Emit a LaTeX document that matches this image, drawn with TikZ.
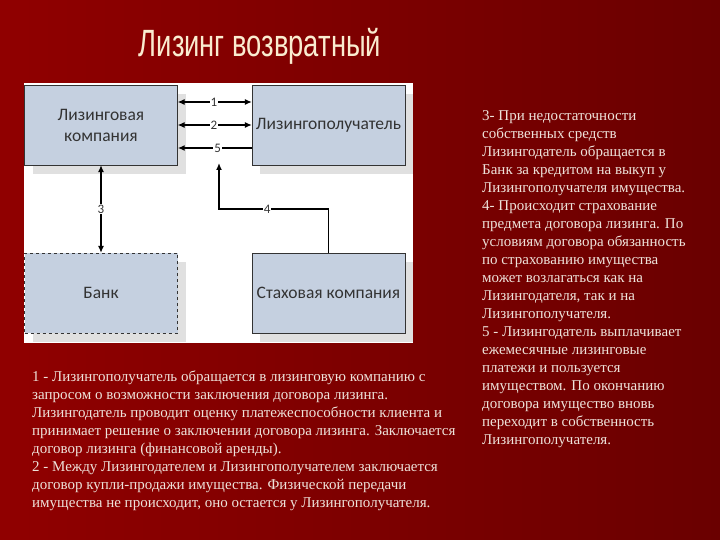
\documentclass[tikz,border=0pt]{standalone}
\usepackage{fontspec}
\setmainfont{Liberation Serif}
\newfontfamily\boxfont{Carlito}
\newfontfamily\titlefont[FakeStretch=0.72]{Liberation Sans}
\usetikzlibrary{shadows,arrows.meta}
\definecolor{slidered}{RGB}{144,0,0}
\definecolor{slidedark}{RGB}{106,0,0}
\definecolor{boxblue}{RGB}{197,208,224}
\definecolor{titlecream}{RGB}{250,236,208}
\definecolor{notecream}{RGB}{238,226,218}

\begin{document}
\begin{tikzpicture}
        [
            x = 1pt, y = -1pt,
            >= {Latex[length = 7pt, width = 6pt]},
            party/.style = {draw = black!80, fill = boxblue, minimum width = 153pt, minimum height = 80pt, inner sep = 0pt, align = center, text = black!80, font = \boxfont\fontsize{17.5}{21}\selectfont, drop shadow = {shadow xshift = 8pt, shadow yshift = -9pt, fill = black!12, opacity = 1}},
            numlabel/.style = {fill = white, inner sep = 1pt, text = black!80, font = \boxfont\fontsize{13}{13}\selectfont},
            notes/.style = {anchor = north west, align = left, inner sep = 0pt, text = notecream, font = \fontsize{15}{18}\selectfont}
        ]

        \useasboundingbox (0,0) rectangle (720,540);
        \shade[left color = slidered, right color = slidedark] (0,0) rectangle (720,540);
        \fill[white] (24,83) rectangle (413,343);

        \node[text = titlecream, font = \titlefont\fontsize{38}{40}\selectfont] (title) at (260,46) {Лизинг возвратный};

        \node[party] (lessor) at (101,125) {Лизинговая\\компания};
        \node[party] (lessee) at (328.5,125) {Лизингополучатель};
        \node[party, dashed] (bank) at (101,293) {Банк};
        \node[party] (insurer) at (328.5,293) {Стаховая компания};
        \coordinate (claim) at (219,163);

        \draw[<->, line width = 1.1pt] ([yshift = 23pt] lessor.east) -- ([yshift = 23pt] lessee.west) node[numlabel, pos = 0.49] {1};
        \draw[<->, line width = 1.1pt] (lessor.east) -- (lessee.west) node[numlabel, pos = 0.49] {2};
        \draw[->, line width = 1.6pt] ([yshift = -23pt] lessee.west) -- ([yshift = -23pt] lessor.east) node[numlabel, pos = 0.46] {5};
        \draw[<->, line width = 1.1pt] (lessor.south) -- (bank.north) node[numlabel, midway] {3};
        \draw[->, line width = 1.3pt] (insurer.north) |- node[numlabel, pos = 0.78] {4} (claim |- 0,209) -- (claim);

        \node[notes] (leftnotes) at (32,371) {1 - Лизингополучатель обращается в лизинговую компанию с\\
            запросом о возможности заключения договора лизинга.\\
            Лизингодатель проводит оценку платежеспособности клиента и\\
            принимает решение о заключении договора лизинга. Заключается\\
            договор лизинга (финансовой аренды).\\
            2 - Между Лизингодателем и Лизингополучателем заключается\\
            договор купли-продажи имущества. Физической передачи\\
            имущества не происходит, оно остается у Лизингополучателя.};

        \node[notes] (rightnotes) at (482,110) {3- При недостаточности\\
            собственных средств\\
            Лизингодатель обращается в\\
            Банк за кредитом на выкуп у\\
            Лизингополучателя имущества.\\
            4- Происходит страхование\\
            предмета договора лизинга. По\\
            условиям договора обязанность\\
            по страхованию имущества\\
            может возлагаться как на\\
            Лизингодателя, так и на\\
            Лизингополучателя.\\
            5 - Лизингодатель выплачивает\\
            ежемесячные лизинговые\\
            платежи и пользуется\\
            имуществом. По окончанию\\
            договора имущество вновь\\
            переходит в собственность\\
            Лизингополучателя.};
    \end{tikzpicture}
\end{document}
